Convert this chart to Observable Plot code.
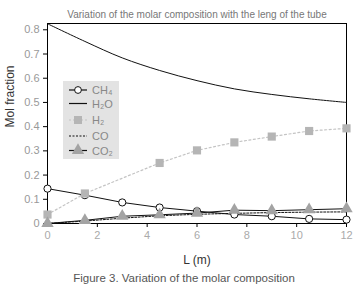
<!DOCTYPE html>
<html><head><meta charset="utf-8">
<script src="https://cdn.jsdelivr.net/npm/d3@7"></script>
<script src="https://cdn.jsdelivr.net/npm/@observablehq/plot@0.6"></script>
<style>
body{margin:0;background:#fff;}
#chart{width:355px;height:292px;}
</style></head>
<body><div id="chart"></div>
<script>
const titleText = "Variation of the molar composition with the leng of the tube";
const captionText = "Figure 3. Variation of the molar composition";
const xLabel = "L (m)";
const yLabel = "Mol fraction";
const L = [0, 1.5, 3, 4.5, 6, 7.5, 9, 10.5, 12];
const ch4 = [0.144, 0.117, 0.087, 0.066, 0.051, 0.037, 0.030, 0.019, 0.016];
const h2o = [0.825, 0.752, 0.684, 0.632, 0.590, 0.556, 0.533, 0.515, 0.500];
const h2L = [0, 1.5, 4.5, 6, 7.5, 9, 10.5, 12];
const h2 = [0.037, 0.124, 0.250, 0.302, 0.335, 0.359, 0.382, 0.393];
const co = [0.0, 0.010, 0.022, 0.032, 0.038, 0.042, 0.045, 0.047, 0.048];
const co2 = [0.0, 0.013, 0.030, 0.036, 0.043, 0.055, 0.053, 0.057, 0.061];
const xTicks = [0, 2, 4, 6, 8, 10, 12];
const yTicks = [0, 0.1, 0.2, 0.3, 0.4, 0.5, 0.6, 0.7, 0.8];
const seriesNames = ["CH₄", "H₂O", "H₂", "CO", "CO₂"];

const rows = (xs, ys) => xs.map((x, i) => ({x, y: ys[i]}));
const dCH4 = rows(L, ch4), dH2O = rows(L, h2o), dH2 = rows(h2L, h2), dCO = rows(L, co), dCO2 = rows(L, co2);

const font = "Liberation Sans, Arial, sans-serif";
const plot = Plot.plot({
  width: 355, height: 292,
  marginLeft: 47, marginRight: 9, marginTop: 23, marginBottom: 69,
  style: {fontFamily: font, background: "#fff"},
  x: {domain: [0, 12]},
  y: {domain: [0, 0.826]},
  marks: [
    Plot.axisX({ticks: xTicks, tickSize: 4, tickPadding: 4, fontSize: 11, color: "#aaa", stroke: "#000", label: null}),
    Plot.axisY({ticks: yTicks, tickSize: 4, tickPadding: 4, fontSize: 11, color: "#999", stroke: "#000", label: null,
      tickFormat: d => d === 0 ? "0" : d.toFixed(1)}),
    Plot.frame({stroke: "#000", strokeWidth: 1}),
    Plot.line(dH2, {x: "x", y: "y", stroke: "#c4c4c4", strokeWidth: 1.2, strokeDasharray: "2,2.5"}),
    Plot.line(dH2O, {x: "x", y: "y", stroke: "#111", strokeWidth: 1, curve: "catmull-rom"}),
    Plot.line(dCH4, {x: "x", y: "y", stroke: "#111", strokeWidth: 1}),
    Plot.line(dCO, {x: "x", y: "y", stroke: "#111", strokeWidth: 1, strokeDasharray: "2,1.5"}),
    Plot.line(dCO2, {x: "x", y: "y", stroke: "#111", strokeWidth: 1}),
    Plot.dot(dCH4, {x: "x", y: "y", r: 3.6, fill: "#fff", stroke: "#111", strokeWidth: 1}),
    Plot.dot(dH2, {x: "x", y: "y", symbol: "square", r: 4.6, fill: "#b5b5b5", stroke: "none"}),
    Plot.dot(dCO2, {x: "x", y: "y", symbol: "triangle", r: 4.6, fill: "#a3a3a3", stroke: "none"}),
    Plot.text([titleText], {frameAnchor: "top", dy: -13, fontSize: 10, fill: "#777"}),
    Plot.text([xLabel], {frameAnchor: "bottom", dy: 40, fontSize: 12, fill: "#333"}),
    Plot.text([captionText], {frameAnchor: "bottom", dy: 58, dx: -13, fontSize: 11.5, fill: "#555"}),
    Plot.text([yLabel], {frameAnchor: "left", dx: -37, dy: 4, rotate: -90, fontSize: 12, fill: "#333"})
  ]
});
document.getElementById("chart").appendChild(plot);

// legend
const svg = d3.select(plot);
const lg = svg.append("g").attr("transform", "translate(63,81)");
lg.append("rect").attr("width", 56).attr("height", 78).attr("fill", "#e3e3e3");
const entries = [
  {name: seriesNames[0], stroke: "#111", dash: null, sym: "circle"},
  {name: seriesNames[1], stroke: "#111", dash: null, sym: null},
  {name: seriesNames[2], stroke: "#c4c4c4", dash: "2,2", sym: "square"},
  {name: seriesNames[3], stroke: "#111", dash: "2,1.5", sym: null},
  {name: seriesNames[4], stroke: "#111", dash: null, sym: "triangle"}
];
const yOff = [9, 22.5, 39, 55, 69.5];
entries.forEach((e, i) => {
  const g = lg.append("g").attr("transform", `translate(0,${yOff[i]})`);
  g.append("line").attr("x1", 6).attr("x2", 24).attr("stroke", e.stroke).attr("stroke-width", 1.2)
    .attr("stroke-dasharray", e.dash);
  if (e.sym === "circle") g.append("circle").attr("cx", 15).attr("r", 3.4).attr("fill", "#fff").attr("stroke", "#111");
  if (e.sym === "square") g.append("rect").attr("x", 11).attr("y", -4).attr("width", 8).attr("height", 8).attr("fill", "#b5b5b5");
  if (e.sym === "triangle") g.append("path").attr("d", d3.symbol(d3.symbolTriangle, 66)()).attr("transform", "translate(15,0)").attr("fill", "#a3a3a3");
  g.append("text").attr("x", 29).attr("y", 4).attr("font-size", 11).attr("fill", "#888")
    .attr("text-anchor", "start").attr("font-family", font).text(e.name);
});
</script>
</body></html>
